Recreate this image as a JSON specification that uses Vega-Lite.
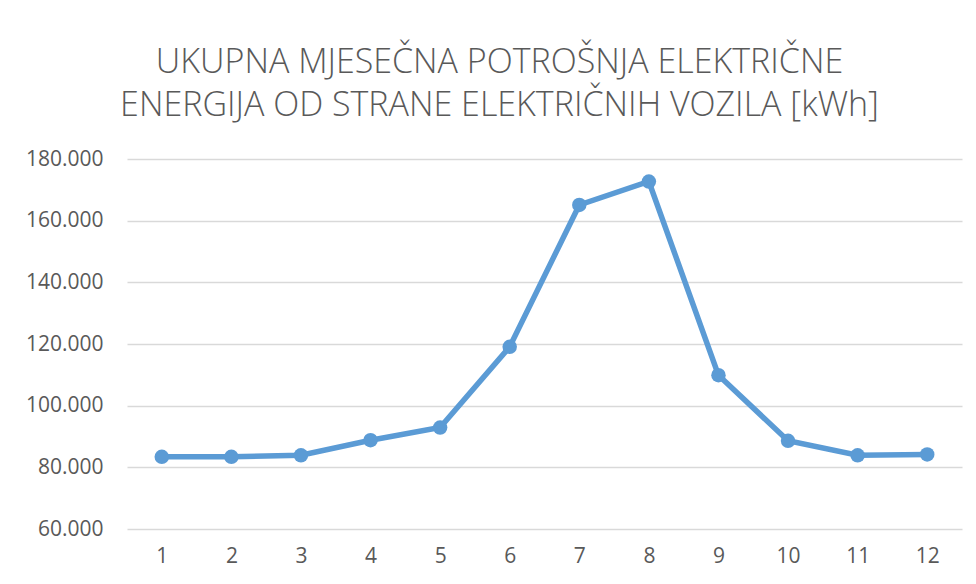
{
  "$schema": "https://vega.github.io/schema/vega-lite/v6.json",
  "autosize": "none",
  "width": 835,
  "height": 370,
  "padding": {"left": 127, "top": 159, "right": 14, "bottom": 55},
  "background": "white",
  "title": {
    "text": ["UKUPNA MJESEČNA POTROŠNJA ELEKTRIČNE", "ENERGIJA OD STRANE ELEKTRIČNIH VOZILA [kWh]"],
    "font": "Open Sans",
    "fontWeight": 300,
    "fontSize": 34,
    "color": "#595959",
    "lineHeight": 43,
    "anchor": "middle",
    "dx": -45,
    "offset": 25
  },
  "data": {
    "values": [
      {"mjesec": "1", "kWh": 83400},
      {"mjesec": "2", "kWh": 83400},
      {"mjesec": "3", "kWh": 83900},
      {"mjesec": "4", "kWh": 88800},
      {"mjesec": "5", "kWh": 92900},
      {"mjesec": "6", "kWh": 119100},
      {"mjesec": "7", "kWh": 165100},
      {"mjesec": "8", "kWh": 172700},
      {"mjesec": "9", "kWh": 109900},
      {"mjesec": "10", "kWh": 88600},
      {"mjesec": "11", "kWh": 83900},
      {"mjesec": "12", "kWh": 84200}
    ]
  },
  "config": {
    "view": {"stroke": null},
    "axis": {
      "labelFont": "Open Sans",
      "labelFontSize": 21,
      "labelColor": "#595959",
      "domain": false,
      "ticks": false,
      "title": null
    }
  },
  "mark": {
    "type": "line",
    "color": "#5B9BD5",
    "strokeWidth": 5.5,
    "point": {"filled": true, "size": 210, "color": "#5B9BD5"}
  },
  "encoding": {
    "x": {
      "field": "mjesec",
      "type": "ordinal",
      "sort": null,
      "scale": {"paddingInner": 0, "paddingOuter": 0.5},
      "axis": {"labelAngle": 0, "grid": false, "labelPadding": 16}
    },
    "y": {
      "field": "kWh",
      "type": "quantitative",
      "scale": {"domain": [60000, 180000], "nice": false, "zero": false},
      "axis": {
        "values": [60000, 80000, 100000, 120000, 140000, 160000, 180000],
        "labelExpr": "replace(format(datum.value, ','), ',', '.')",
        "labelPadding": 24,
        "grid": true,
        "gridColor": "#d9d9d9",
        "gridWidth": 1.3
      }
    }
  }
}
